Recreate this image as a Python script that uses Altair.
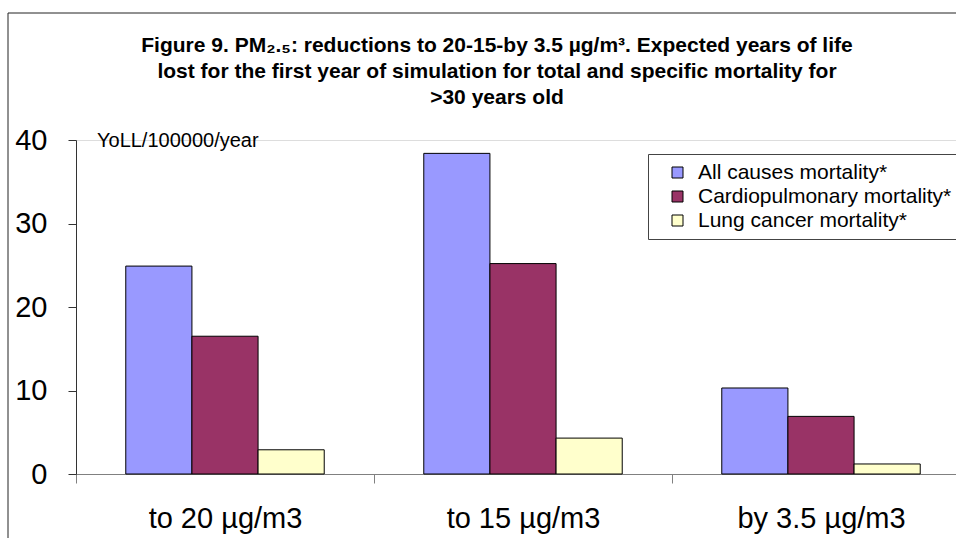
import altair as alt
import pandas as pd

categories = ["to 20 µg/m3", "to 15 µg/m3", "by 3.5 µg/m3"]
series = ["All causes mortality*", "Cardiopulmonary mortality*", "Lung cancer mortality*"]
all_causes = [24.9, 38.4, 10.3]
cardio = [16.5, 25.2, 6.9]
lung = [2.9, 4.3, 1.2]
colors = ["#9999FF", "#993366", "#FFFFCC"]
y_ticks = [0, 10, 20, 30, 40]
unit_label = ["YoLL/100000/year"]
title_lines = [
    "Figure 9. PM₂.₅: reductions to 20-15-by 3.5 µg/m³. Expected years of life",
    "lost for the first year of simulation for total and specific mortality for",
    ">30 years old",
]

rows = []
for i, c in enumerate(categories):
    for s, vals in zip(series, [all_causes, cardio, lung]):
        rows.append({"category": c, "series": s, "value": vals[i]})
df = pd.DataFrame(rows)

FONT = "Liberation Sans"
W, H = 880, 334
STEP = 298

border = alt.Chart(alt.Data(values=[{"k": 1}])).mark_rect(
    filled=False, stroke="#222", strokeWidth=1
).encode(
    x=alt.value(-68), y=alt.value(-127), x2=alt.value(W + 60), y2=alt.value(H + 120)
)

title = alt.Chart(alt.Data(values=[{"k": 1}])).mark_text(
    text=title_lines, align="center", baseline="middle", fontSize=21, font=FONT,
    fontWeight="bold", color="black", lineHeight=26,
).encode(x=alt.value(421), y=alt.value(-94))

bars = alt.Chart(df).mark_bar(stroke="black", strokeWidth=1).encode(
    x=alt.X(
        "category:N",
        sort=categories,
        scale=alt.Scale(range=[0, 3 * STEP], paddingInner=0.334, paddingOuter=0.167),
        axis=alt.Axis(
            title=None, labelFontSize=29, labelFont=FONT, labelColor="black",
            labelPadding=21, tickSize=9, tickColor="#808080",
            tickOffset=-STEP / 2, labelOffset=STEP / 2,
            domainColor="#808080", labelAngle=0,
        ),
    ),
    xOffset=alt.XOffset("series:N", sort=series, scale=alt.Scale(paddingInner=0, paddingOuter=0)),
    y=alt.Y(
        "value:Q",
        scale=alt.Scale(domain=[0, 40], nice=False),
        axis=alt.Axis(
            values=y_ticks, title=None, grid=False, tickSize=8, labelFontSize=29,
            labelFont=FONT, labelColor="black", labelPadding=21,
            domainColor="#333", tickColor="#333",
        ),
    ),
    fill=alt.Fill(
        "series:N",
        sort=series,
        scale=alt.Scale(domain=series, range=colors),
        legend=alt.Legend(
            title=None, orient="none", legendX=572, legendY=14,
            strokeColor="#444", fillColor="white", padding=8,
            symbolType="square", symbolSize=121, symbolStrokeColor="black",
            symbolStrokeWidth=1, symbolOffset=11, labelFontSize=21, labelFont=FONT,
            labelColor="black", labelOffset=10, rowPadding=2, labelLimit=500,
        ),
    ),
)

unit = alt.Chart(alt.Data(values=[{"t": unit_label[0]}])).mark_text(
    align="left", baseline="middle", fontSize=20, font=FONT, color="black"
).encode(x=alt.value(21), y=alt.value(1), text="t:N")

chart = alt.layer(border, title, bars, unit).properties(
    width=W,
    height=H,
    padding={"left": 76, "top": 140, "right": 0, "bottom": 64},
    autosize=alt.AutoSizeParams(type="none"),
).configure_view(stroke=None).configure(background="white")

chart.save("out.html", embed_options={"renderer": "svg", "actions": False})
